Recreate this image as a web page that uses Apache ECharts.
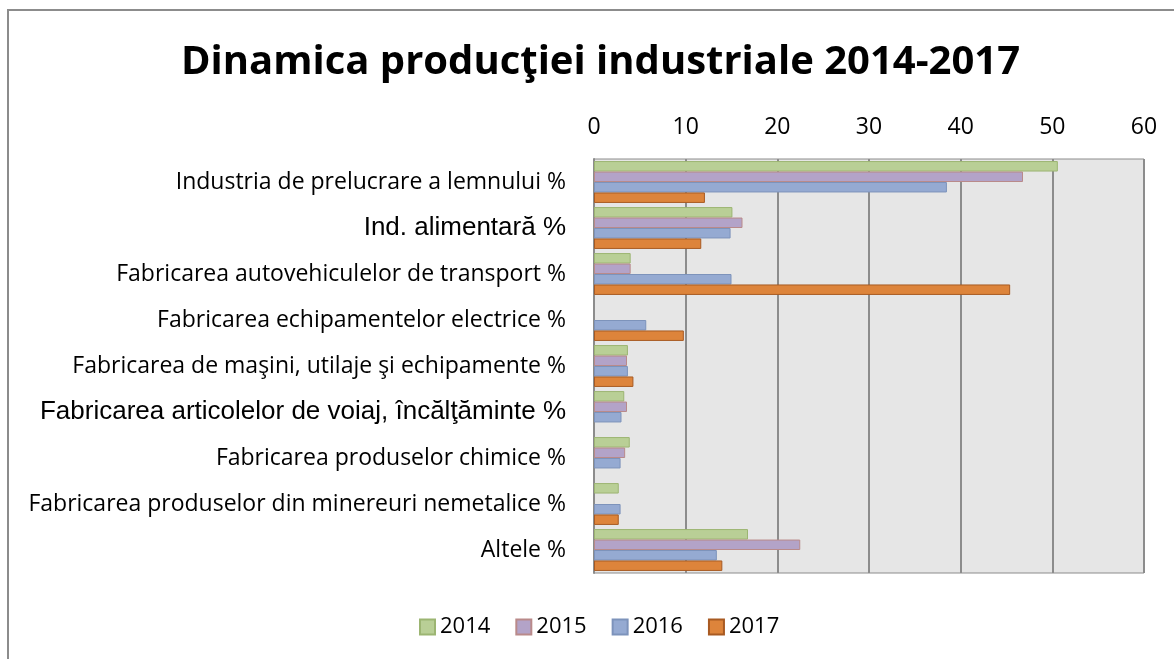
<!DOCTYPE html>
<html>
<head>
<meta charset="utf-8">
<script src="https://cdn.jsdelivr.net/npm/echarts@6/dist/echarts.min.js"></script>
<style>
  html, body { margin: 0; padding: 0; background: #fff; }
  #chart { width: 1174px; height: 659px; }
</style>
</head>
<body>
<div id="chart"></div>
<script>
// categorii, de sus in jos
var categories = [
  'Industria de prelucrare a lemnului %',
  'Ind. alimentară %',
  'Fabricarea autovehiculelor de transport %',
  'Fabricarea echipamentelor electrice %',
  'Fabricarea de maşini, utilaje şi echipamente %',
  'Fabricarea articolelor de voiaj, încălţăminte %',
  'Fabricarea produselor chimice %',
  'Fabricarea produselor din minereuri nemetalice %',
  'Altele %'
]
var years = ['2014', '2015', '2016', '2017']
var v2014 = [50.6, 15.1, 4.0, 0, 3.7, 3.3, 3.9, 2.7, 16.8]
var v2015 = [46.8, 16.2, 4.0, 0, 3.6, 3.6, 3.4, 0, 22.5]
var v2016 = [38.5, 14.9, 15.0, 5.7, 3.7, 3.0, 2.9, 2.9, 13.4]
var v2017 = [12.1, 11.7, 45.4, 9.8, 4.3, 0, 0, 2.7, 14.0]
var xTicks = [0, 10, 20, 30, 40, 50, 60]

// etichete scrise in Arial in original
var arialLabels = ['Ind. alimentară %', 'Fabricarea articolelor de voiaj, încălţăminte %']

var fills = ['#b9cf96', '#b3a3c8', '#95aad2', '#dd843b']
var borders = ['#9cb572', '#b98a8a', '#7d93bb', '#a85a22']
var values = [v2014, v2015, v2016, v2017]

var chart = echarts.init(document.getElementById('chart'))

var series = years.map(function (y, i) {
  return {
    name: y,
    type: 'bar',
    // 0 -> fara bara (nu se deseneaza nici conturul)
    data: values[i].map(function (v) { return v === 0 ? '-' : v }),
    barGap: '0%',
    barCategoryGap: '9%',
    itemStyle: { color: fills[i], borderColor: borders[i], borderWidth: 1 }
  }
})

var option = {
  animation: false,
  title: {
    text: 'Dinamica producţiei industriale 2014-2017',
    left: 176,
    top: 38,
    textStyle: { fontFamily: 'Open Sans', fontWeight: 'bold', fontSize: 40, color: '#000' }
  },
  graphic: [{
    type: 'rect',
    shape: { x: 8, y: 10, width: 1180, height: 660 },
    style: { fill: null, stroke: '#8c8c8c', lineWidth: 2 },
    z: -1
  }],
  legend: {
    data: years,
    bottom: 16,
    left: 414,
    icon: 'rect',
    itemWidth: 15,
    itemHeight: 15,
    itemGap: 25,
    textStyle: { fontFamily: 'Open Sans', fontSize: 22, color: '#000' }
  },
  grid: { left: 594, right: 30, top: 159, bottom: 86, containLabel: false, show: true, backgroundColor: '#e6e6e6', borderColor: '#8c8c8c', borderWidth: 1 },
  xAxis: {
    type: 'value',
    position: 'top',
    min: xTicks[0],
    max: xTicks[xTicks.length - 1],
    interval: 10,
    axisLine: { show: false },
    axisTick: { show: false },
    axisLabel: { fontFamily: 'Open Sans', fontSize: 23, color: '#000', margin: 20 },
    splitLine: { lineStyle: { color: '#8c8c8c', width: 2 } }
  },
  yAxis: {
    type: 'category',
    data: categories,
    inverse: true,
    axisLine: { lineStyle: { color: '#8c8c8c', width: 2 } },
    axisTick: { show: false },
    axisLabel: {
      margin: 28,
      formatter: function (v) {
        return arialLabels.indexOf(v) >= 0 ? '{a|' + v + '}' : '{c|' + v + '}'
      },
      rich: {
        a: { fontFamily: 'Liberation Sans', fontSize: 26, color: '#000' },
        c: { fontFamily: 'Open Sans', fontSize: 23, color: '#000' }
      }
    }
  },
  series: series
}

chart.setOption(option)
</script>
</body>
</html>
